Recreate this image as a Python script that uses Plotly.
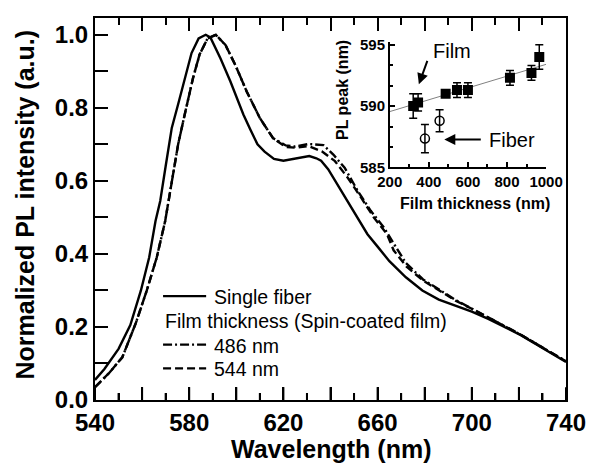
import plotly.graph_objects as go

# ---------------- main spectra ----------------
fiber_wl = [540, 544, 550, 555, 559.5, 563, 565.7, 567.7, 570, 572.6, 575.3, 578, 581, 584, 587, 589,
            593.3, 597.5, 603, 606, 609, 612, 616, 620, 624, 628, 631, 634, 636, 639, 643, 647.4,
            651.6, 655.7, 660, 665, 672, 679, 686, 693, 700, 707, 714, 721, 728, 734, 740]
fiber_pl = [0.055, 0.085, 0.14, 0.205, 0.30, 0.39, 0.49, 0.545, 0.64, 0.745, 0.81, 0.88, 0.95, 0.99, 1.0, 0.993,
            0.935, 0.872, 0.782, 0.74, 0.70, 0.68, 0.66, 0.655, 0.66, 0.665, 0.668, 0.662, 0.655, 0.632, 0.59, 0.545,
            0.499, 0.454, 0.42, 0.38, 0.336, 0.30, 0.275, 0.258, 0.242, 0.222, 0.20, 0.177, 0.15, 0.128, 0.104]

film486_wl = [540, 546, 551.6, 557.3, 562, 566.2, 569.8, 571.2, 573, 575.3, 578.1, 581.6, 584.4, 587.8, 591.3,
              595.4, 599.6, 604.4, 610, 615.6, 621, 625, 630.8, 637, 641.2, 646, 651.6, 657.1, 662.7, 666.8,
              672, 679.3, 686.2, 693.1, 700, 707, 714, 721, 728, 734, 740]
film486_pl = [0.035, 0.074, 0.117, 0.21, 0.30, 0.39, 0.49, 0.545, 0.62, 0.70, 0.782, 0.881, 0.946, 0.99, 1.0,
              0.972, 0.917, 0.845, 0.772, 0.717, 0.697, 0.694, 0.701, 0.698, 0.672, 0.636, 0.572, 0.518, 0.472, 0.428,
              0.375, 0.33, 0.302, 0.274, 0.25, 0.225, 0.202, 0.178, 0.152, 0.13, 0.106]

film544_wl = [540, 546, 551.6, 557.3, 562, 566.2, 569.8, 571.2, 573, 575.3, 578.1, 581.6, 584.4, 587.8, 591.3,
              595.4, 599.6, 604.4, 610, 615.6, 621, 625, 630.8, 636.3, 641.9, 647.4, 653, 658.5, 664, 666.8,
              672.3, 679.3, 686.2, 693.1, 700, 707, 714, 721, 728, 734, 740]
film544_pl = [0.035, 0.074, 0.117, 0.21, 0.30, 0.39, 0.49, 0.545, 0.62, 0.70, 0.782, 0.881, 0.946, 0.99, 1.0,
              0.972, 0.917, 0.845, 0.772, 0.717, 0.693, 0.691, 0.695, 0.681, 0.654, 0.608, 0.554, 0.499, 0.454, 0.41,
              0.365, 0.327, 0.300, 0.272, 0.25, 0.225, 0.202, 0.178, 0.152, 0.13, 0.106]

x_tickvals = [540, 560, 580, 600, 620, 640, 660, 680, 700, 720, 740]
x_ticktext = ["540", "", "580", "", "620", "", "660", "", "700", "", "740"]
x_minorvals = [550, 570, 590, 610, 630, 650, 670, 690, 710, 730]
y_tickvals = [0.0, 0.2, 0.4, 0.6, 0.8, 1.0]
y_ticktext = ["0.0", "0.2", "0.4", "0.6", "0.8", "1.0"]

# ---------------- inset data ----------------
film_thick = [320, 345, 486, 544, 600, 815, 925, 965]
film_peak = [590.0, 590.3, 591.0, 591.3, 591.3, 592.3, 592.7, 594.0]
film_err = [1.0, 0.7, 0.15, 0.6, 0.6, 0.6, 0.6, 1.0]
fiber_thick = [380, 455]
fiber_peak = [587.35, 588.8]
fiber_err = [1.15, 0.9]
fit_x = [200, 1000]
fit_y = [589.55, 593.4]
inset_xticks = [200, 400, 600, 800, 1000]
inset_yticks = [585, 590, 595]

FONT = "Liberation Sans, Arial, sans-serif"

fig = go.Figure()
fig.add_trace(go.Scatter(x=fiber_wl, y=fiber_pl, mode="lines",
                         line=dict(color="black", width=2.4), showlegend=False))
fig.add_trace(go.Scatter(x=film486_wl, y=film486_pl, mode="lines",
                         line=dict(color="black", width=2.4, dash="9px,3px,2px,3px"), showlegend=False))
fig.add_trace(go.Scatter(x=film544_wl, y=film544_pl, mode="lines",
                         line=dict(color="black", width=2.4, dash="8px,4px"), showlegend=False))

# inset traces
fig.add_trace(go.Scatter(x=fit_x, y=fit_y, mode="lines", xaxis="x2", yaxis="y2",
                         line=dict(color="#808080", width=1), showlegend=False))
fig.add_trace(go.Scatter(x=film_thick, y=film_peak, mode="markers", xaxis="x2", yaxis="y2",
                         marker=dict(symbol="square", size=10, color="black"),
                         error_y=dict(type="data", array=film_err, visible=True, color="black",
                                      thickness=1.5, width=4),
                         showlegend=False))
fig.add_trace(go.Scatter(x=fiber_thick, y=fiber_peak, mode="markers", xaxis="x2", yaxis="y2",
                         marker=dict(symbol="circle-open", size=9, color="black", line=dict(width=1.5)),
                         error_y=dict(type="data", array=fiber_err, visible=True, color="black",
                                      thickness=1.5, width=4),
                         showlegend=False))

# ---------------- layout ----------------
L, R, T, B = 95, 22, 14, 64
W, H = 598, 464
pw, ph = W - L - R, H - T - B


def px(x):
    return (x - L) / pw


def py(y):
    return (H - B - y) / ph


tickfont_main = dict(family=FONT, size=24, color="black", weight="bold")
tickfont_inset = dict(family=FONT, size=15, color="black", weight="bold")

fig.update_layout(
    width=W, height=H,
    margin=dict(l=L, r=R, t=T, b=B, pad=0),
    paper_bgcolor="white", plot_bgcolor="white",
    font=dict(family=FONT, color="black"),
    xaxis=dict(range=[540, 740], tickmode="array", tickvals=x_tickvals, ticktext=x_ticktext,
               ticks="inside", ticklen=13, tickwidth=2, tickcolor="black",
               minor=dict(tickmode="array", tickvals=x_minorvals,
                          ticks="inside", ticklen=7, tickwidth=2, tickcolor="black"),
               showline=True, linewidth=2, linecolor="black", mirror="allticks",
               showgrid=False, zeroline=False, tickfont=tickfont_main, domain=[0, 1]),
    yaxis=dict(range=[0, 1.046], tickmode="array", tickvals=y_tickvals, ticktext=y_ticktext,
               ticks="inside", ticklen=13, tickwidth=2, tickcolor="black",
               minor=dict(dtick=0.1, tick0=0, ticks="inside", ticklen=13, tickwidth=2, tickcolor="black"),
               showline=True, linewidth=2, linecolor="black", mirror=True,
               showgrid=False, zeroline=False, tickfont=tickfont_main, domain=[0, 1]),
    xaxis2=dict(domain=[px(396), px(555.7)], anchor="y2", range=[200, 1000],
                tickmode="array", tickvals=inset_xticks,
                ticks="inside", ticklen=6, tickwidth=1.5, tickcolor="black",
                minor=dict(dtick=100, tick0=200, ticks="inside", ticklen=3.5, tickwidth=1.5, tickcolor="black"),
                showline=True, linewidth=1.5, linecolor="black", mirror=False,
                showgrid=False, zeroline=False, tickfont=tickfont_inset),
    yaxis2=dict(domain=[py(165), py(38)], anchor="x2", range=[585, 595.24],
                tickmode="array", tickvals=inset_yticks,
                ticks="inside", ticklen=6, tickwidth=1.5, tickcolor="black",
                minor=dict(dtick=5 / 3, tick0=585, ticks="inside", ticklen=3.5, tickwidth=1.5, tickcolor="black"),
                showline=True, linewidth=1.5, linecolor="black", mirror=False,
                showgrid=False, zeroline=False, tickfont=tickfont_inset),
)

shapes = []
# bottom-edge tick marks (pointing up into the plot), placed with the x scale
for v in x_tickvals:
    shapes.append(dict(type="line", xref="x", yref="paper", x0=v, x1=v, y0=0, y1=13 / ph,
                       line=dict(color="black", width=2)))
for v in x_minorvals:
    shapes.append(dict(type="line", xref="x", yref="paper", x0=v, x1=v, y0=0, y1=7 / ph,
                       line=dict(color="black", width=2)))

ann = []
# axis titles
ann.append(dict(text="Wavelength (nm)", x=px(335.5), y=py(450), xref="paper", yref="paper",
                showarrow=False, xanchor="center", yanchor="middle",
                font=dict(family=FONT, size=25, color="black", weight="bold")))
ann.append(dict(text="Normalized PL intensity (a.u.)", x=px(24), y=py(202), xref="paper", yref="paper",
                showarrow=False, xanchor="center", yanchor="middle", textangle=-90,
                font=dict(family=FONT, size=25, color="black", weight="bold")))
ann.append(dict(text="Film thickness (nm)", x=px(483), y=py(201), xref="paper", yref="paper",
                showarrow=False, xanchor="center", yanchor="middle",
                font=dict(family=FONT, size=16, color="black", weight="bold")))
ann.append(dict(text="PL peak (nm)", x=px(348), y=py(87), xref="paper", yref="paper",
                showarrow=False, xanchor="center", yanchor="middle", textangle=-90,
                font=dict(family=FONT, size=16, color="black", weight="bold")))

# inset labels with arrows
ann.append(dict(text="Film", x=px(438), y=py(47), xref="paper", yref="paper", showarrow=False,
                xanchor="left", yanchor="middle", font=dict(family=FONT, size=20, color="black")))
ann.append(dict(text="", x=349, y=591.77, xref="x2", yref="y2", showarrow=True,
                ax=9, ay=-25, arrowhead=2, arrowsize=1.1, arrowwidth=2, arrowcolor="black"))
ann.append(dict(text="Fiber", x=px(495), y=py(137), xref="paper", yref="paper", showarrow=False,
                xanchor="left", yanchor="middle", font=dict(family=FONT, size=20, color="black")))
ann.append(dict(text="", x=479, y=587.28, xref="x2", yref="y2", showarrow=True,
                ax=38, ay=0, arrowhead=2, arrowsize=1.1, arrowwidth=2, arrowcolor="black"))

# legend (manual)
leg_font = dict(family=FONT, size=19.5, color="black")
rows = [(295, "Single fiber", None), (344, "486 nm", "9px,3px,2px,3px"), (368, "544 nm", "8px,4px")]
for yrow, label, dash in rows:
    shapes.append(dict(type="line", xref="paper", yref="paper", x0=px(164.5), x1=px(208.5),
                       y0=py(yrow), y1=py(yrow),
                       line=dict(color="black", width=2.4, dash=dash if dash else "solid")))
    ann.append(dict(text=label, x=px(214), y=py(yrow + 1), xref="paper", yref="paper", showarrow=False,
                    xanchor="left", yanchor="middle", font=leg_font))
ann.append(dict(text="Film thickness (Spin-coated film)", x=px(164), y=py(320), xref="paper", yref="paper",
                showarrow=False, xanchor="left", yanchor="middle", font=leg_font))

fig.update_layout(annotations=ann, shapes=shapes)
fig.write_html("out.html")
